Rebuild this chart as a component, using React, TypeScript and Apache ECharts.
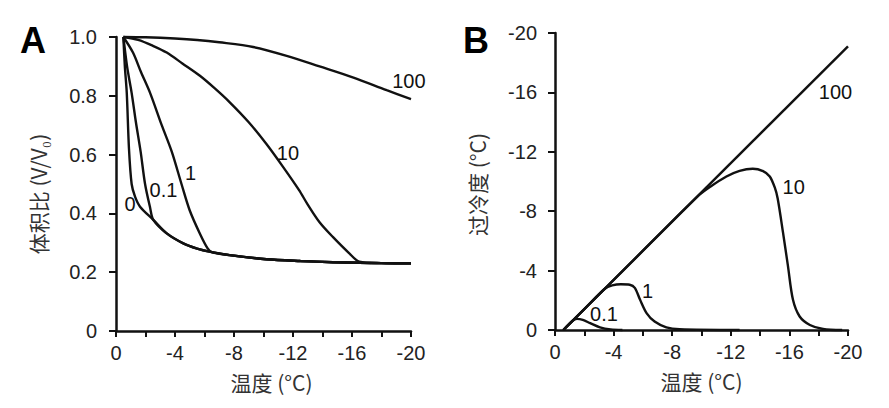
import React, { useEffect, useRef } from "react";
import * as echarts from "echarts";

// cooling rates (°C/min) used as curve labels
const rateLabels = ["0", "0.1", "1", "10", "100"];

// panel A: volume ratio V/V0 vs temperature, one array per cooling rate
const volRate0 = [
  [-0.5, 1.0], [-0.6, 0.9], [-0.73, 0.81], [-0.88, 0.62], [-1.06, 0.5], [-1.29, 0.457],
  [-1.63, 0.423], [-2.53, 0.378], [-3.44, 0.332], [-4.56, 0.298], [-5.5, 0.28], [-6.4, 0.269],
  [-7.7, 0.258], [-10.2, 0.244], [-12.5, 0.238], [-14.7, 0.234], [-16.5, 0.232], [-18, 0.231],
  [-20, 0.23],
];
const volRate01 = [
  [-0.5, 1.0], [-0.75, 0.9], [-1.06, 0.81], [-1.35, 0.71], [-1.67, 0.61], [-1.97, 0.5],
  [-2.31, 0.42], [-2.53, 0.378], [-3.44, 0.332], [-4.56, 0.298], [-5.5, 0.28], [-6.4, 0.269],
  [-7.7, 0.258], [-10.2, 0.244], [-12.5, 0.238], [-14.7, 0.234], [-16.5, 0.232], [-18, 0.231],
  [-20, 0.23],
];
const volRate1 = [
  [-0.5, 1.0], [-1.15, 0.947], [-1.7, 0.88], [-2.31, 0.81], [-3.1, 0.7], [-3.78, 0.61],
  [-4.44, 0.5], [-5.0, 0.41], [-5.69, 0.331], [-6.2, 0.282], [-6.5, 0.268], [-7.7, 0.258],
  [-10.2, 0.244], [-12.5, 0.238], [-14.7, 0.234], [-16.5, 0.232], [-18, 0.231], [-20, 0.23],
];
const volRate10 = [
  [-0.5, 1.0], [-1.5, 0.99], [-2.5, 0.97], [-3.44, 0.947], [-4.5, 0.91], [-5.69, 0.868],
  [-6.7, 0.825], [-7.73, 0.777], [-9.0, 0.71], [-10.2, 0.636], [-11.3, 0.56], [-12.4, 0.48],
  [-13.0, 0.43], [-13.8, 0.37], [-14.7, 0.32], [-15.8, 0.265], [-16.5, 0.236], [-18, 0.231],
  [-20, 0.23],
];
const volRate100 = [
  [-0.5, 1.0], [-2, 0.999], [-4, 0.995], [-5.5, 0.99], [-7, 0.982], [-9.3, 0.966],
  [-11.57, 0.936], [-13.8, 0.9], [-16.1, 0.862], [-18.35, 0.819], [-20, 0.789],
];

// panel B: supercooling vs temperature
const superRate01 = [
  [-0.57, 0], [-1.2, -0.62], [-1.5, -0.75], [-1.9, -0.68], [-2.4, -0.46], [-3.07, -0.18],
  [-3.8, -0.04], [-4.6, 0],
];
const superRate1 = [
  [-0.57, 0], [-2, -1.41], [-3.4, -2.78], [-3.9, -3.0], [-4.5, -3.08], [-5.1, -3.05],
  [-5.45, -2.84], [-5.8, -2.05], [-6.25, -1.14], [-6.8, -0.57], [-7.6, -0.18], [-8.5, -0.05],
  [-12.6, 0],
];
const superRate10 = [
  [-0.57, 0], [-5, -4.35], [-9.7, -8.97], [-10.6, -9.65], [-11.7, -10.34], [-12.6, -10.72],
  [-13.5, -10.86], [-14.2, -10.7], [-14.66, -10.34], [-15.0, -9.6], [-15.2, -8.86],
  [-15.56, -6.59], [-15.9, -4.32], [-16.24, -2.05], [-16.7, -0.91], [-17.4, -0.34],
  [-18.3, -0.07], [-19.6, 0],
];
const superRate100 = [[-0.57, 0], [-20, -19.1]];

// where the rate labels sit, in data coordinates
const labelPosA = [[-0.95, 0.432], [-3.22, 0.48], [-5.05, 0.536], [-11.66, 0.604], [-19.86, 0.852]];
const labelPosB = [[-3.34, -1.08], [-6.31, -2.6], [-16.29, -9.6], [-19.15, -16.0]];

const tickFont = "Liberation Sans";
const cjkFont = "Noto Sans CJK SC";
const ink = "#111";

const xAxisBase = (gridIndex: number) => ({
  type: "value" as const,
  gridIndex,
  min: -20,
  max: 0,
  interval: 2,
  inverse: true,
  axisLine: { onZero: false, lineStyle: { color: ink, width: 2.5 } },
  axisTick: { length: 6, lineStyle: { color: ink, width: 2 } },
  splitLine: { show: false },
  axisLabel: {
    margin: 12,
    color: "#222",
    fontFamily: tickFont,
    fontSize: 20,
    formatter: (v: number) => (v % 4 === 0 ? String(v) : ""),
  },
  name: "温度 (°C)",
  nameLocation: "middle" as const,
  nameGap: 40,
  nameTextStyle: { fontFamily: cjkFont, fontSize: 21, color: "#333" },
});

const curve = (data: number[][], idx: number) => ({
  type: "line" as const,
  xAxisIndex: idx,
  yAxisIndex: idx,
  data,
  showSymbol: false,
  smooth: 0.3,
  clip: false,
  lineStyle: { color: ink, width: 2.4 },
});

const labels = (pos: number[][], names: string[], idx: number) => ({
  type: "scatter" as const,
  xAxisIndex: idx,
  yAxisIndex: idx,
  symbolSize: 1,
  itemStyle: { color: "rgba(0,0,0,0)", opacity: 1 },
  data: pos.map((p, i) => ({ value: p, name: names[i] })),
  label: {
    show: true,
    position: "inside" as const,
    formatter: "{b}",
    color: ink,
    fontFamily: tickFont,
    fontSize: 20,
  },
});

const App: React.FC = () => {
  const chartRef = useRef<HTMLDivElement>(null);
  useEffect(() => {
    const chart = echarts.init(chartRef.current as HTMLDivElement, undefined, { renderer: "svg" });
    const option: echarts.EChartsOption = {
      animation: false,
      backgroundColor: "#fff",
      grid: [
        { left: 116, top: 37, width: 295, height: 294 },
        { left: 555, top: 33, width: 293, height: 297 },
      ],
      xAxis: [
        { ...xAxisBase(0), nameTextStyle: { fontFamily: cjkFont, fontSize: 21, color: "#333", padding: [0, 0, 0, 16] } },
        xAxisBase(1),
      ],
      yAxis: [
        {
          type: "value",
          gridIndex: 0,
          min: 0,
          max: 1,
          interval: 0.2,
          axisLine: { show: true, onZero: false, lineStyle: { color: ink, width: 2.5 } },
          axisTick: { show: true, length: 7, lineStyle: { color: ink, width: 2 } },
          splitLine: { show: false },
          axisLabel: {
            margin: 19,
            color: "#222",
            fontFamily: tickFont,
            fontSize: 20,
            formatter: (v: number) => (v === 0 ? "0" : v.toFixed(1)),
          },
          name: "体积比 (V/V₀)",
          nameLocation: "middle",
          nameGap: 68,
          nameTextStyle: { fontFamily: cjkFont, fontSize: 21, color: "#333", padding: [0, 20, 0, 0] },
        },
        {
          type: "value",
          gridIndex: 1,
          min: -20,
          max: 0,
          interval: 4,
          inverse: true,
          axisLine: { show: true, onZero: false, lineStyle: { color: ink, width: 2.5 } },
          axisTick: { show: true, length: 7, lineStyle: { color: ink, width: 2 } },
          splitLine: { show: false },
          axisLabel: { margin: 18, color: "#222", fontFamily: tickFont, fontSize: 20 },
          name: "过冷度 (°C)",
          nameLocation: "middle",
          nameGap: 68,
          nameTextStyle: { fontFamily: cjkFont, fontSize: 21, color: "#333", padding: [0, 6, 0, 0] },
        },
      ],
      graphic: [
        {
          type: "text",
          left: 20,
          top: 22,
          style: { text: "A", font: `bold 36px "${tickFont}"`, fill: "#000" },
        },
        {
          type: "text",
          left: 463,
          top: 22,
          style: { text: "B", font: `bold 36px "${tickFont}"`, fill: "#000" },
        },
      ],
      series: [
        curve(volRate0, 0),
        curve(volRate01, 0),
        curve(volRate1, 0),
        curve(volRate10, 0),
        curve(volRate100, 0),
        curve(superRate01, 1),
        curve(superRate1, 1),
        curve(superRate10, 1),
        curve(superRate100, 1),
        labels(labelPosA, rateLabels, 0),
        labels(labelPosB, rateLabels.slice(1), 1),
      ],
    };
    chart.setOption(option);
    return () => {
      chart.dispose();
    };
  }, []);

  return (
    <div
      ref={chartRef}
      style={{ position: "fixed", left: 0, top: 0, width: "889px", height: "408px" }}
    />
  );
};

export default App;
